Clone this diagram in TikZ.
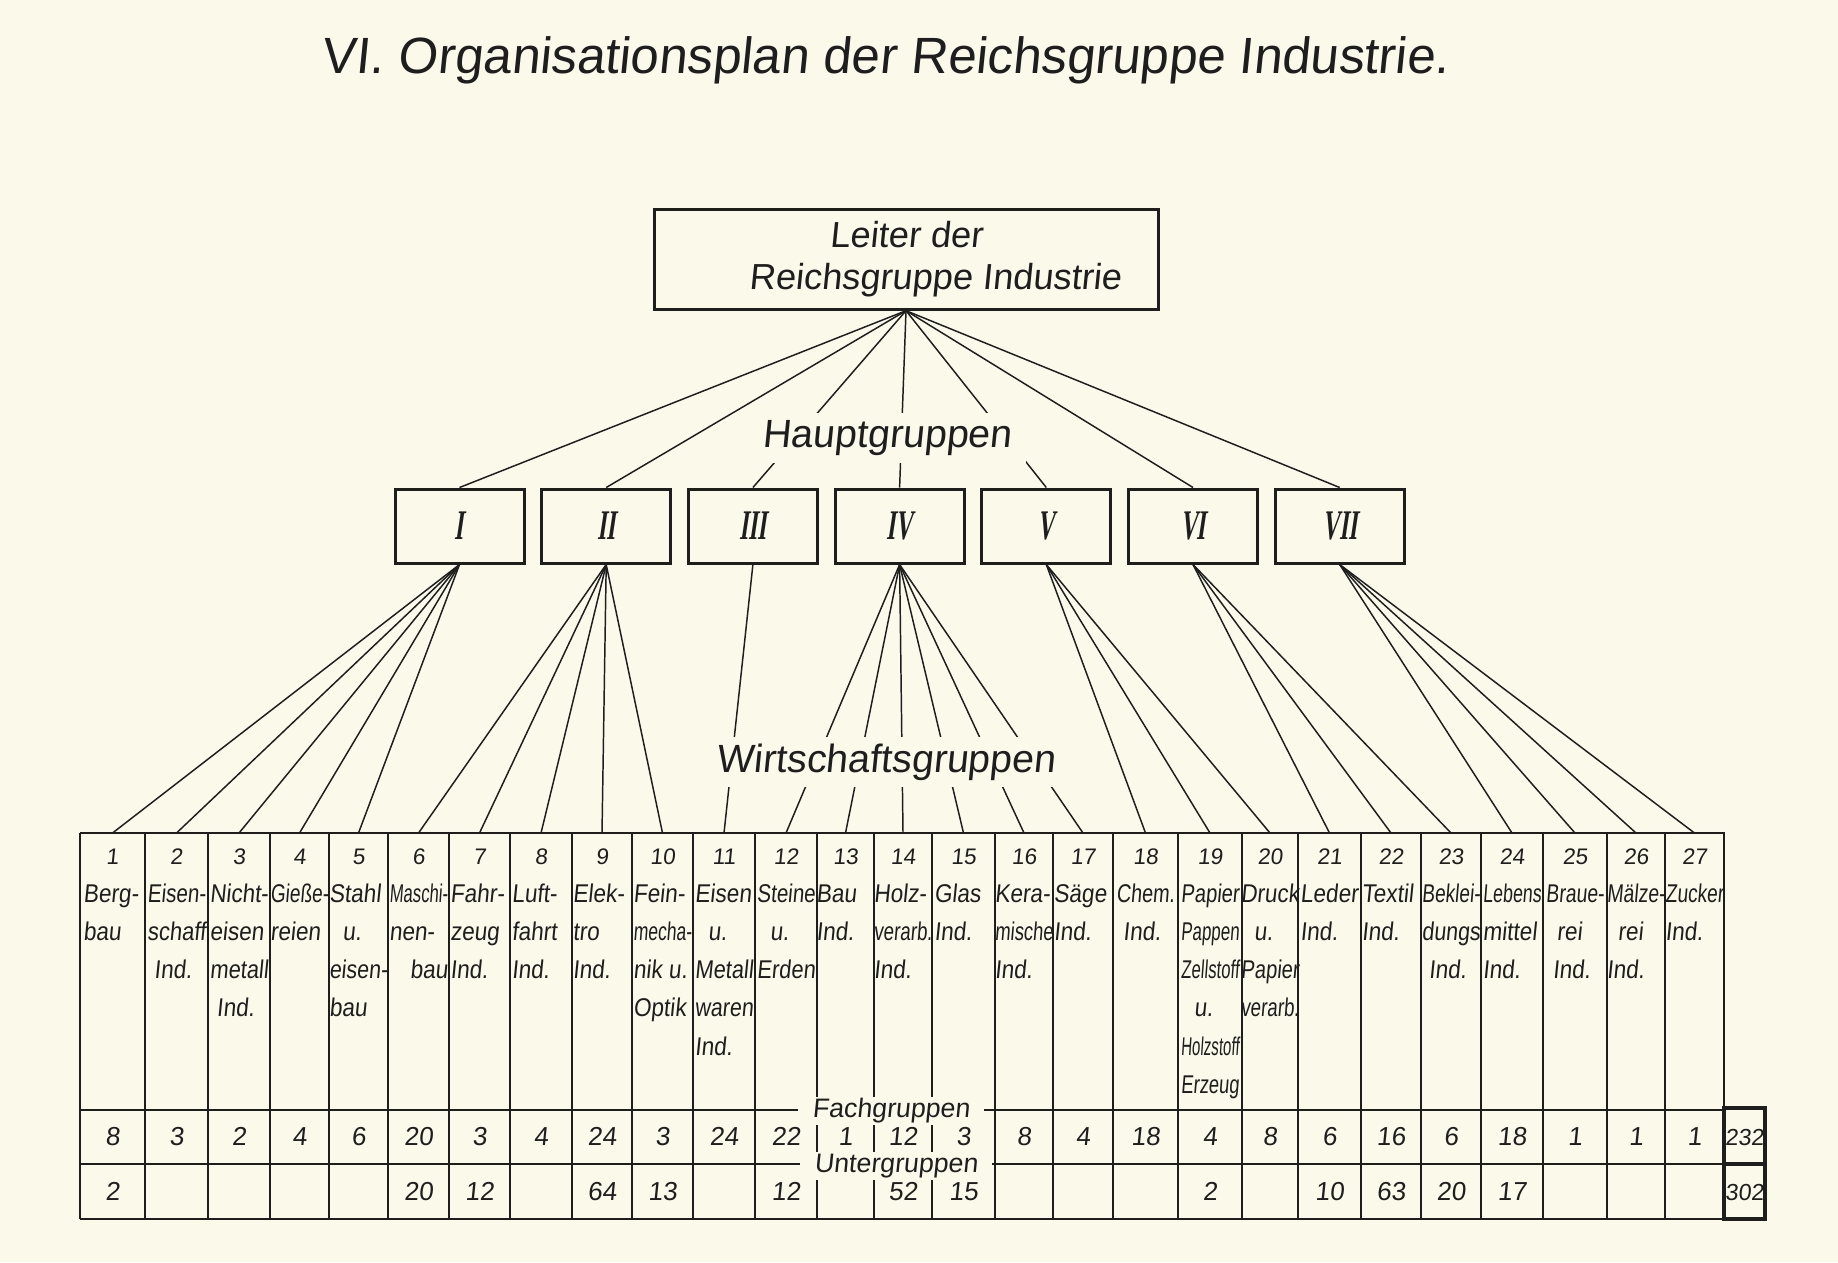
\documentclass[tikz,border=0pt]{standalone}
\usepackage{fontspec}
\usepackage{graphicx}
\usepackage{tikz}
\usetikzlibrary{calc}
\setmainfont{Liberation Sans}
\newfontfamily\hand[FakeSlant=0.1]{Liberation Sans}
\newfontfamily\handn[FakeSlant=0.1,FakeStretch=0.88]{Liberation Sans}
\newfontfamily\numfont[FakeSlant=0.15,FakeStretch=0.55]{Liberation Serif}
\definecolor{paper}{HTML}{FBF9EA}
\definecolor{ink}{HTML}{1E1E1E}
\tikzset{
  % boxes of the upper levels
  headbox/.style = {draw=ink, line width=0.85pt, minimum width=50.4mm, minimum height=9.7mm,
                    align=center, text=ink, font=\hand\fontsize{10.3}{12}\selectfont},
  grpbox/.style  = {draw=ink, line width=0.85pt, minimum width=12.9mm, minimum height=7.4mm,
                    text=ink, font=\numfont\bfseries\fontsize{12}{12}\selectfont},
  titletext/.style = {anchor=base, text=ink, font=\hand\fontsize{14.5}{17}\selectfont},
  link/.style    = {ink, line width=0.42pt},
  rule/.style    = {ink, line width=0.55pt},
  sumbox/.style  = {ink, line width=1.1pt},
  tag/.style     = {fill=paper, text=ink, inner xsep=4pt, inner ysep=2pt,
                    font=\hand\fontsize{11.2}{12}\selectfont},
  rowtag/.style  = {fill=paper, text=ink, inner xsep=4pt, inner ysep=0.5pt,
                    font=\hand\fontsize{7.6}{8}\selectfont},
  num/.style     = {anchor=base, inner sep=0pt, text=ink, font=\hand\fontsize{6.4}{7}\selectfont},
  cell/.style    = {anchor=base, inner sep=0pt, text=ink, font=\handn\fontsize{7.3}{8}\selectfont},
  val/.style     = {anchor=base, inner sep=0pt, text=ink, font=\hand\fontsize{7.4}{8}\selectfont},
  sumval/.style  = {anchor=base, inner sep=0pt, text=ink, font=\hand\fontsize{6.6}{8}\selectfont},
}
% one text line of a column, squeezed if it is too wide
\newsavebox\cellbox
\newlength\cellw
\setlength\cellw{16.6pt}
\newcommand\fitcell[1]{\sbox\cellbox{#1}%
  \ifdim\wd\cellbox>\cellw\resizebox{\cellw}{\height}{\usebox\cellbox}\else\makebox[\cellw][l]{#1}\fi}
% text of column #1, lines #2
\newcommand\wg[2]{\foreach \txt [count=\k] in {#2}
  {\node[cell] (w#1-\k) at ($(t#1)+(0,{30.7+38.3*\k})$) {\fitcell{\txt}};}}

\begin{document}
\begin{tikzpicture}[x=0.1mm, y=-0.1mm]
\fill[paper] (0,0) rectangle (1838,1262);
\useasboundingbox (0,0) rectangle (1838,1262);

% title and leader
\node[titletext] (title) at (885,73) {VI. Organisationsplan der Reichsgruppe Industrie.};
\node[headbox] (root) at (906,259.5) {Leiter der\\\hspace*{5.8mm}Reichsgruppe Industrie};

% Hauptgruppen
\foreach \rn [count=\i] in {I,II,III,IV,V,VI,VII}
  \node[grpbox] (h\i) at ({459.5+146.7*(\i-1)},526) {\rn};
\foreach \i in {1,...,7} \draw[link] (root.south) -- (h\i.north);
\node[tag] (haupt) at (887,438) {Hauptgruppen};

% Wirtschaftsgruppen: column/left/right
\foreach \i/\lft/\rgt in {1/80/145, 2/145/208, 3/208/270, 4/270/329, 5/329/388, 6/388/449,
    7/449/510, 8/510/572, 9/572/632, 10/632/693, 11/693/755, 12/755/817, 13/817/874,
    14/874/932, 15/932/995, 16/995/1053, 17/1053/1113, 18/1113/1178, 19/1178/1242,
    20/1242/1298, 21/1298/1361, 22/1361/1421, 23/1421/1481, 24/1481/1543, 25/1543/1607,
    26/1607/1665, 27/1665/1724} {
  \coordinate (t\i) at ({(\lft+\rgt)/2},833);
  \draw[rule] (\lft,833) -- (\lft,1219);
  \node[num] (n\i) at ($(t\i)+(0,31)$) {\i};
}
\draw[rule] (80,833) -- (1724,833) -- (1724,1219) -- (80,1219);
\draw[rule] (80,1110) -- (1724,1110);
\draw[rule] (80,1164) -- (1724,1164);

\foreach \a/\b in {1/1,2/1,3/1,4/1,5/1,6/2,7/2,8/2,9/2,10/2,11/3,12/4,13/4,14/4,15/4,16/4,
    17/4,18/5,19/5,20/5,21/6,22/6,23/6,24/7,25/7,26/7,27/7} {\draw[link] (h\b.south) -- (t\a);}
\node[tag] (wirt) at (886,762) {Wirtschaftsgruppen};

\wg{1}{Berg-,bau}
\wg{2}{Eisen-,schaff,\hfil Ind.\hfil}
\wg{3}{Nicht-,eisen,metall,\hfil Ind.\hfil}
\wg{4}{Gieße-,reien}
\wg{5}{Stahl,\hfil u.\hfil,eisen-,bau}
\wg{6}{Maschi-,nen-,\hfill bau}
\wg{7}{Fahr-,zeug,Ind.}
\wg{8}{Luft-,fahrt,Ind.}
\wg{9}{Elek-,tro,Ind.}
\wg{10}{Fein-,mecha-,nik u.,Optik}
\wg{11}{Eisen,\hfil u.\hfil,Metall,waren,Ind.}
\wg{12}{Steine,\hfil u.\hfil,Erden}
\wg{13}{Bau,Ind.}
\wg{14}{Holz-,verarb.,Ind.}
\wg{15}{Glas,Ind.}
\wg{16}{Kera-,mische,Ind.}
\wg{17}{Säge,Ind.}
\wg{18}{Chem.,\hfil Ind.\hfil}
\wg{19}{Papier,Pappen,Zellstoff,\hfil u.\hfil,Holzstoff,Erzeug}
\wg{20}{Druck,\hfil u.\hfil,Papier,verarb.}
\wg{21}{Leder,Ind.}
\wg{22}{Textil,Ind.}
\wg{23}{Beklei-,dungs,\hfil Ind.\hfil}
\wg{24}{Lebens,mittel,Ind.}
\wg{25}{Braue-,\hfil rei\hfil,\hfil Ind.\hfil}
\wg{26}{Mälze-,\hfil rei\hfil,Ind.}
\wg{27}{Zucker,Ind.}

% Fachgruppen and Untergruppen
\node[rowtag] (fach) at (891,1111) {Fachgruppen};
\node[rowtag] (unter) at (896,1166) {Untergruppen};
\foreach \i/\x in {1/8,2/3,3/2,4/4,5/6,6/20,7/3,8/4,9/24,10/3,11/24,12/22,13/1,14/12,15/3,
    16/8,17/4,18/18,19/4,20/8,21/6,22/16,23/6,24/18,25/1,26/1,27/1}
  \node[val] (f\i) at ($(t\i)+(0,312)$) {\x};
\foreach \i/\x in {1/2,6/20,7/12,9/64,10/13,12/12,14/52,15/15,19/2,21/10,22/63,23/20,24/17}
  \node[val] (u\i) at ($(t\i)+(0,367)$) {\x};

% totals
\draw[sumbox] (1724,1108) rectangle (1765,1219);
\draw[sumbox] (1724,1164) -- (1765,1164);
\node[sumval] (s1) at (1744.5,1145) {232};
\node[sumval] (s2) at (1744.5,1200) {302};
\end{tikzpicture}
\end{document}
